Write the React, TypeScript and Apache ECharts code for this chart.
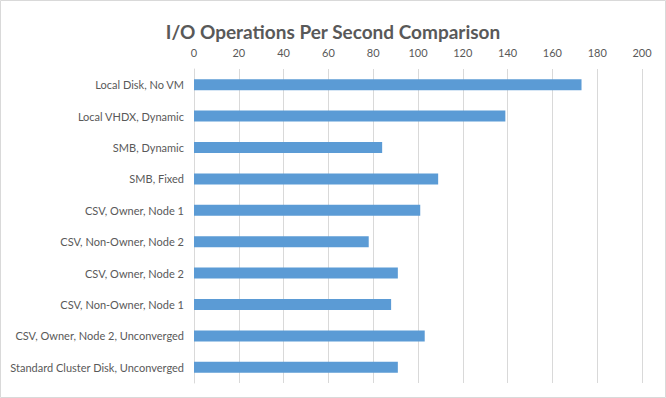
import React, { useEffect, useRef } from "react";
import * as echarts from "echarts";

const categories = [
  "Local Disk, No VM",
  "Local VHDX, Dynamic",
  "SMB, Dynamic",
  "SMB, Fixed",
  "CSV, Owner, Node 1",
  "CSV, Non-Owner, Node 2",
  "CSV, Owner, Node 2",
  "CSV, Non-Owner, Node 1",
  "CSV, Owner, Node 2, Unconverged",
  "Standard Cluster Disk, Unconverged",
];
const iops = [173, 139, 84, 109, 101, 78, 91, 88, 103, 91];
const axisMin = 0;
const axisMax = 200;
const axisStep = 20;

export default function App() {
  const ref = useRef<HTMLDivElement>(null);
  useEffect(() => {
    if (!ref.current) return;
    const chart = echarts.init(ref.current, null, { renderer: "svg" });
    chart.setOption({
      animation: false,
      backgroundColor: "#ffffff",
      title: {
        text: "I/O Operations Per Second Comparison",
        left: "center",
        top: 17,
        textStyle: {
          fontFamily: "Lato",
          fontWeight: "bold",
          fontSize: 19,
          color: "#595959",
        },
      },
      graphic: [
        {
          type: "rect",
          shape: { x: 0.5, y: 0.5, width: 665, height: 397 },
          style: { fill: "none", stroke: "#d9d9d9", lineWidth: 1 },
          silent: true,
        },
      ],
      grid: { left: 194, right: 24, top: 69, bottom: 15, containLabel: false },
      xAxis: {
        type: "value",
        position: "top",
        min: axisMin,
        max: axisMax,
        interval: axisStep,
        axisLine: { show: false },
        axisTick: { show: false },
        splitLine: { show: true, lineStyle: { color: "#d9d9d9", width: 1 } },
        axisLabel: {
          margin: 11,
          fontFamily: "Lato",
          fontSize: 11,
          color: "#595959",
        },
      },
      yAxis: {
        type: "category",
        data: categories,
        inverse: true,
        axisLine: { show: true, lineStyle: { color: "#d9d9d9" } },
        axisTick: { show: false },
        axisLabel: {
          margin: 10,
          fontFamily: "Lato",
          fontSize: 11,
          color: "#595959",
        },
      },
      series: [
        {
          type: "bar",
          data: iops,
          barWidth: 11,
          itemStyle: { color: "#5b9bd5" },
        },
      ],
    });
    return () => chart.dispose();
  }, []);
  return (
    <div
      ref={ref}
      style={{ position: "absolute", left: 0, top: 0, width: 666, height: 398 }}
    />
  );
}
